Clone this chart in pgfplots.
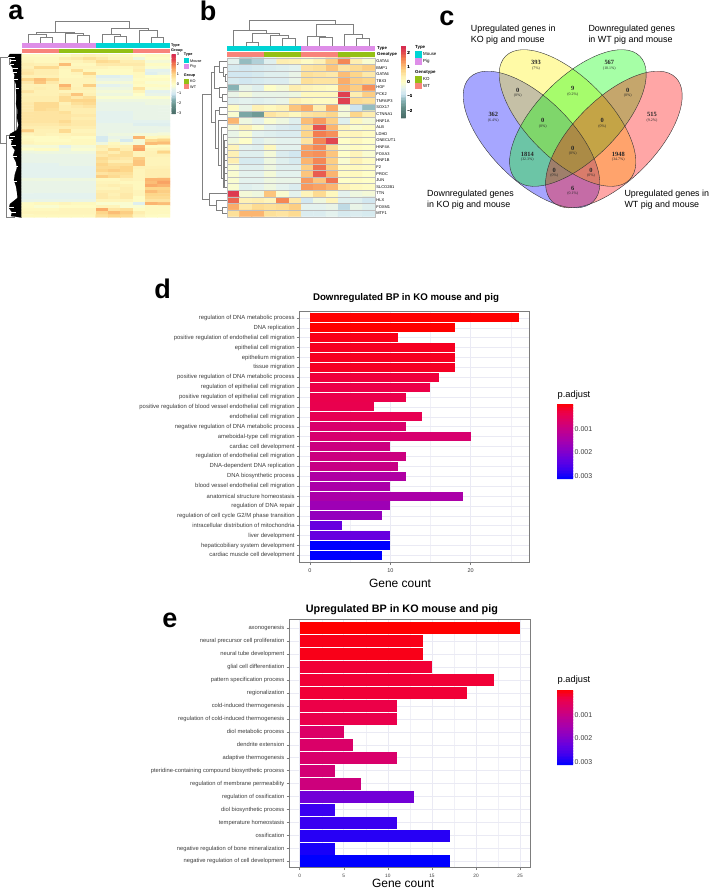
\documentclass[border=0pt]{standalone}
\usepackage{fontspec}
\setmainfont{Liberation Sans}
\newfontfamily\serifvenn{Liberation Serif}
\usepackage{pgfplots}
\pgfplotsset{compat=1.18}
\definecolor{mouse}{RGB}{0,212,212}
\definecolor{pig}{RGB}{222,142,232}
\definecolor{wt}{RGB}{248,132,122}
\definecolor{ko}{RGB}{148,192,20}
\definecolor{gridc}{RGB}{234,234,244}
\definecolor{boxc}{RGB}{125,125,125}
\definecolor{txt}{RGB}{60,60,60}
\pgfplotsset{
  colormap={hm}{rgb255=(70,105,100) rgb255=(85,125,120) rgb255=(105,148,142) rgb255=(135,178,180)
    rgb255=(205,228,240) rgb255=(228,242,238) rgb255=(254,254,200) rgb255=(254,238,176)
    rgb255=(253,214,138) rgb255=(250,172,105) rgb255=(243,125,80) rgb255=(225,70,80) rgb255=(214,40,80)},
  colormap={padj}{rgb255=(255,0,0) rgb255=(235,0,75) rgb255=(215,0,110) rgb255=(190,0,145) rgb255=(165,0,175)
    rgb255=(135,0,200) rgb255=(100,0,225) rgb255=(60,0,240) rgb255=(0,0,255)},
  heat/.style={scale only axis, enlargelimits=false},
  pb/.style={color of colormap={#1 of padj}, fill=., draw=none},
  gobar/.style={scale only axis, xbar, bar shift=0pt, y dir=reverse, axis on top=false,
    axis line style={boxc, line width=.8pt},
    tick style={boxc, line width=.5pt}, major tick length=2.5pt, minor tick length=0pt,
    tick align=outside, xtick pos=bottom, ytick pos=left,
    xmajorgrids, ymajorgrids, xminorgrids,
    major grid style={gridc, line width=.6pt}, minor grid style={gridc!70, line width=.4pt},
    ytick={0,...,30},
    /pgf/number format/assume math mode=true},
  % the colorbar keeps its default xshift of .3cm, so at= below is 8.54pt left of the wanted x
  keybar/.style={anchor=north west, samples=50,
    axis line style={draw=none}, major tick length=0pt,
    /pgf/number format/assume math mode=true},
}
\newcommand{\fs}[1]{\fontsize{#1}{#1}\selectfont}
\newcommand{\vn}[3]{\node[font=\serifvenn\bfseries\fs{6.4}, text=black!85] at (axis cs:#1,#2) {#3};}
\newcommand{\vp}[3]{\node[font=\serifvenn\fs{3.9}, text=black!85] at (axis cs:#1,#2) {#3};}
\newcommand{\lab}[4]{\node[anchor=west, inner sep=0pt, font=#1] at (axis cs:#2,#3) {#4};}
\newcommand{\letter}[3]{\node[anchor=base, inner sep=0pt, font=\bfseries\fs{27}] at (axis cs:#1,#2) {#3};}
\begin{document}
\begin{tikzpicture}
\useasboundingbox (0pt,0pt) rectangle (709pt,-889pt);

% whole page in pixel coordinates: annotation bars, dendrograms, venn, free text
\begin{axis}[at={(0pt,0pt)}, anchor=north west, scale only axis, width=709pt, height=889pt,
  xmin=0, xmax=709, ymin=0, ymax=889, y dir=reverse, hide axis, clip=false]

% panel letters
\letter{16}{19.5}{a}
\letter{208}{20.7}{b}
\letter{447}{25}{c}
\letter{162.7}{298.3}{d}
\letter{170}{627.7}{e}

% panel a annotation bars
\fill[pig] (axis cs:21.7,43.3) rectangle (axis cs:95.7,48.3);
\fill[mouse] (axis cs:95.7,43.3) rectangle (axis cs:170,48.3);
\fill[wt] (axis cs:21.7,49) rectangle (axis cs:58.5,52.7);
\fill[ko] (axis cs:58.5,49) rectangle (axis cs:133,52.7);
\fill[wt] (axis cs:133,49) rectangle (axis cs:170,52.7);
\lab{\bfseries\fs{3.8}}{171}{45.6}{Type}
\lab{\bfseries\fs{3.8}}{171}{50.6}{Group}
\lab{\bfseries\fs{3.8}}{183.7}{55}{Type}
\fill[mouse] (axis cs:183.7,58.3) rectangle (axis cs:189,63.3);
\fill[pig] (axis cs:183.7,64) rectangle (axis cs:189,69);
\lab{\fs{3.8}}{190}{61}{Mouse}
\lab{\fs{3.8}}{190}{66.7}{Pig}
\lab{\bfseries\fs{3.8}}{183.7}{75.7}{Group}
\fill[ko] (axis cs:183.7,78.7) rectangle (axis cs:189,84);
\fill[wt] (axis cs:183.7,84.3) rectangle (axis cs:189,89.3);
\lab{\fs{3.8}}{190}{81.4}{KO}
\lab{\fs{3.8}}{190}{86.8}{WT}

% panel a column dendrogram
\addplot[gray, line width=.5pt, unbounded coords=jump] coordinates {
(36.7,33) (36.7,32.7) (74,32.7) (74,33) (nan,nan)
(55.3,32.7) (55.3,21.7) (129.3,21.7) (129.3,28.3) (nan,nan)
(111,28.3) (148.3,28.3) (nan,nan)
(36.7,32.7) (36.7,34.3) (nan,nan)
(27.8,43.3) (27.8,34.3) (46.3,34.3) (nan,nan)
(40.2,43.3) (40.2,37.3) (52.6,37.3) (52.6,43.3) (nan,nan)
(46.3,34.3) (46.3,37.3) (nan,nan)
(64.9,43.3) (64.9,33.3) (83.3,33.3) (nan,nan)
(77.3,43.3) (77.3,35) (89.7,35) (89.7,43.3) (nan,nan)
(83.3,33.3) (83.3,35) (nan,nan)
(74,32.7) (74,33.3) (nan,nan)
(111,28.3) (111,34.3) (nan,nan)
(102,43.3) (102,34.3) (120.7,34.3) (nan,nan)
(114.3,43.3) (114.3,36) (126.7,36) (126.7,43.3) (nan,nan)
(120.7,34.3) (120.7,36) (nan,nan)
(148.3,28.3) (148.3,30.7) (nan,nan)
(139,43.3) (139,30.7) (157.7,30.7) (nan,nan)
(151.3,43.3) (151.3,37.3) (163.7,37.3) (163.7,43.3) (nan,nan)
(157.7,30.7) (157.7,37.3)
};
% panel a row dendrogram: outer branches and the dense black mass
\addplot[gray, line width=.5pt, unbounded coords=jump] coordinates {
(10,57) (.7,57) (.7,143) (6,143) (nan,nan)
(14,135) (6,135) (6,217) (15,217) (nan,nan)
(14,60) (14,133) (nan,nan)
(9,57) (9,64) (14,64) (nan,nan)
(16,70) (16,130)
};
\addplot[black, fill=black, line width=.2pt] coordinates {
(21.7,54) (10,54) (8,57) (12,60) (10,64) (13,68) (13,72) (15,75) (14,79) (16,84) (16,90) (16.5,97)
(16,104) (17.5,110) (17,118) (18.5,125) (17,130) (10,134) (9,138) (12,141) (11,145) (15,150) (13,156)
(16,162) (17,168) (15,174) (14,180) (16,186) (17,192) (17.5,198) (10,204) (9,208) (12,212) (11,216)
(21.7,217.5) (21.7,54)
} --cycle;
% gaps in the mass
\addplot[white, line width=.5pt, unbounded coords=jump] coordinates {
(8,57) (15,57) (nan,nan) (10,60.5) (16,60.5) (nan,nan) (10,64) (14,64) (nan,nan) (13,68) (18,68) (nan,nan)
(13,72) (17,72) (nan,nan) (14,79) (18,79) (nan,nan) (16,88) (19,88) (nan,nan) (10,136) (15,136) (nan,nan)
(9,139) (13,139) (nan,nan) (11,145) (16,145) (nan,nan) (13,156) (17,156) (nan,nan) (14,166) (18,166) (nan,nan)
(14,181) (17,181) (nan,nan) (9,207) (14,207) (nan,nan) (11,212) (16,212)
};

% panel b annotation bars
\fill[mouse] (axis cs:227.3,46) rectangle (axis cs:301,51);
\fill[pig] (axis cs:301,46) rectangle (axis cs:375,51);
\fill[wt] (axis cs:227.3,51.7) rectangle (axis cs:264,56.7);
\fill[ko] (axis cs:264,51.7) rectangle (axis cs:301,56.7);
\fill[wt] (axis cs:301,51.7) rectangle (axis cs:338,56.7);
\fill[ko] (axis cs:338,51.7) rectangle (axis cs:375,56.7);
\lab{\bfseries\fs{4.3}}{377}{48.5}{Type}
\lab{\bfseries\fs{4.3}}{377}{54.2}{Genotype}
\lab{\bfseries\fs{4.4}}{415}{47.5}{Type}
\fill[mouse] (axis cs:415,51) rectangle (axis cs:421.7,57.7);
\fill[pig] (axis cs:415,58) rectangle (axis cs:421.7,64.7);
\lab{\fs{4.4}}{423}{54.3}{Mouse}
\lab{\fs{4.4}}{423}{61.3}{Pig}
\lab{\bfseries\fs{4.4}}{415}{72}{Genotype}
\fill[ko] (axis cs:415,76) rectangle (axis cs:421.7,82.7);
\fill[wt] (axis cs:415,83) rectangle (axis cs:421.7,89.3);
\lab{\fs{4.4}}{423}{79.3}{KO}
\lab{\fs{4.4}}{423}{86.2}{WT}

% panel b column dendrogram
\addplot[gray, line width=.55pt, unbounded coords=jump] coordinates {
(249.3,30.7) (249.3,20.7) (335,20.7) (335,24) (nan,nan)
(233.5,46) (233.5,30.7) (266,30.7) (266,33.3) (nan,nan)
(252,33.3) (279,33.3) (nan,nan)
(252,33.3) (252,42) (nan,nan)
(245.8,46) (245.8,42) (258.1,42) (258.1,46) (nan,nan)
(279,33.3) (279,35.3) (nan,nan)
(270.4,46) (270.4,35.3) (288.6,35.3) (nan,nan)
(282.7,46) (282.7,38.3) (295,38.3) (295,46) (nan,nan)
(288.6,35.3) (288.6,38.3) (nan,nan)
(316.7,36) (316.7,24) (353.3,24) (353.3,34.3) (nan,nan)
(307.3,46) (307.3,36) (325.7,36) (nan,nan)
(319.6,46) (319.6,37.3) (331.9,37.3) (331.9,46) (nan,nan)
(325.7,36) (325.7,37.3) (nan,nan)
(344.2,46) (344.2,34.3) (362.5,34.3) (nan,nan)
(356.5,46) (356.5,38.3) (368.8,38.3) (368.8,46) (nan,nan)
(362.5,34.3) (362.5,38.3)
};
% panel b row dendrogram
\addplot[gray, line width=.55pt, unbounded coords=jump] coordinates {
(211,94) (202,94) (202,199) (209,199) (nan,nan)
(227,193.6) (209,193.6) (209,205) (216,205) (nan,nan)
(227,200.3) (216,200.3) (216,210) (222,210) (nan,nan)
(227,206.9) (222,206.9) (222,213.5) (227,213.5) (nan,nan)
(214,72) (211,72) (211,122) (215,122) (nan,nan)
(219,66) (214,66) (214,88) (219,88) (nan,nan)
(227,61) (219,61) (219,72) (223,72) (nan,nan)
(227,67.6) (223,67.6) (223,76) (225,76) (nan,nan)
(227,74.3) (225,74.3) (225,80.9) (227,80.9) (nan,nan)
(227,87.5) (219,87.5) (219,97.5) (222,97.5) (nan,nan)
(227,94.2) (222,94.2) (222,100.8) (227,100.8) (nan,nan)
(219,110) (215,110) (215,148) (218,148) (nan,nan)
(227,107.4) (219,107.4) (219,114) (227,114) (nan,nan)
(227,120.7) (218,120.7) (218,165) (221,165) (nan,nan)
(227,127.3) (221,127.3) (221,178) (223,178) (nan,nan)
(227,133.9) (223,133.9) (223,187) (224.5,187) (nan,nan)
(227,140.6) (224.5,140.6) (224.5,187) (nan,nan)
(227,147.2) (224.5,147.2) (nan,nan)
(227,153.8) (224.5,153.8) (nan,nan)
(227,160.5) (224.5,160.5) (nan,nan)
(227,167.1) (224.5,167.1) (nan,nan)
(227,173.7) (224.5,173.7) (nan,nan)
(227,180.4) (224.5,180.4) (nan,nan)
(227,187) (224.5,187)
};

% panel c venn
\fill[blue, fill opacity=.35] (axis cs:531.5,139.5) ellipse[x radius=87.5pt, y radius=41pt, rotate=-45];
\fill[yellow, fill opacity=.35] (axis cs:567.5,118) ellipse[x radius=87.5pt, y radius=41pt, rotate=-45];
\fill[green, fill opacity=.35] (axis cs:577.9,118) ellipse[x radius=87.5pt, y radius=41pt, rotate=45];
\fill[red, fill opacity=.35] (axis cs:613.9,139.5) ellipse[x radius=87.5pt, y radius=41pt, rotate=45];
\draw[black!80, line width=.4pt] (axis cs:531.5,139.5) ellipse[x radius=87.5pt, y radius=41pt, rotate=-45];
\draw[black!80, line width=.4pt] (axis cs:567.5,118) ellipse[x radius=87.5pt, y radius=41pt, rotate=-45];
\draw[black!80, line width=.4pt] (axis cs:577.9,118) ellipse[x radius=87.5pt, y radius=41pt, rotate=45];
\draw[black!80, line width=.4pt] (axis cs:613.9,139.5) ellipse[x radius=87.5pt, y radius=41pt, rotate=45];
\vn{493.3}{114.3}{362} \vp{493.3}{120.3}{(6.4\%)}
\vn{536}{62.7}{393} \vp{536}{68.7}{(7\%)}
\vn{609.3}{62.7}{567} \vp{609.3}{68.7}{(10.1\%)}
\vn{652}{114.7}{515} \vp{652}{120.7}{(9.2\%)}
\vn{517.7}{90.3}{0} \vp{517.7}{96}{(0\%)}
\vn{572.7}{88.3}{9} \vp{572.7}{94.3}{(0.2\%)}
\vn{627.7}{90.3}{0} \vp{627.7}{96}{(0\%)}
\vn{542.7}{120.7}{0} \vp{542.7}{126.7}{(0\%)}
\vn{602.3}{120.7}{0} \vp{602.3}{126.7}{(0\%)}
\vn{527.3}{154}{1814} \vp{527.3}{160}{(32.3\%)}
\vn{572.7}{148}{0} \vp{572.7}{154}{(0\%)}
\vn{618.3}{154}{1948} \vp{618.3}{160}{(34.7\%)}
\vn{554.3}{170}{0} \vp{554.3}{175.7}{(0\%)}
\vn{591}{170}{0} \vp{591}{175.7}{(0\%)}
\vn{572.7}{188.3}{6} \vp{572.7}{194}{(0.1\%)}
\lab{\fs{8.9}}{470.7}{29}{Upregulated genes in}
\lab{\fs{8.9}}{470.7}{39.7}{KO pig and mouse}
\lab{\fs{8.9}}{588.3}{29}{Downregulated genes}
\lab{\fs{8.9}}{588.3}{39.7}{in WT pig and mouse}
\lab{\fs{8.9}}{427}{193.7}{Downregulated genes}
\lab{\fs{8.9}}{427}{204.7}{in KO pig and mouse}
\lab{\fs{8.9}}{624.3}{193.7}{Upregulated genes in}
\lab{\fs{8.9}}{624.3}{204.7}{WT pig and mouse}

% p.adjust legends
\lab{\fs{9.3}}{557.5}{395}{p.adjust}
\lab{\fs{9.3}}{557.5}{680}{p.adjust}
\end{axis}

% panel a heatmap, 12 samples by row bands
\begin{axis}[heat, hide axis, at={(21.7pt,-54pt)}, anchor=north west, width=148.3pt, height=163.5pt,
  xmin=-.5, xmax=11.5, ymin=-.5, ymax=53.5, y dir=reverse, colormap name=hm, point meta min=-3, point meta max=3]
\addplot[matrix plot*, mesh/cols=12, point meta=explicit] table[row sep=crcr, header=false,
  x expr={int(mod(\coordindex+.5,12))}, y expr={int((\coordindex+.5)/12)}, meta index=0] {
.1\\.1\\.1\\.1\\.3\\.4\\.3\\.2\\.2\\.0\\.1\\.1\\
.2\\.2\\.2\\.5\\.6\\.8\\.6\\.3\\.3\\-.3\\.0\\.0\\
.3\\.2\\.2\\.3\\.3\\.5\\.9\\.8\\.5\\.5\\-.2\\-.2\\
.5\\.4\\.4\\1.3\\.2\\.2\\.6\\.6\\.6\\.6\\.1\\.1\\
.4\\.9\\.9\\.3\\.3\\.3\\.3\\.2\\.2\\.4\\-.1\\-.1\\
.6\\.5\\.5\\.2\\.8\\.2\\.1\\.1\\.1\\.5\\-.5\\-.5\\
.7\\.5\\.5\\.2\\.3\\1.0\\.1\\.1\\.1\\.2\\-.6\\-.4\\
.4\\.4\\.4\\.2\\.2\\.4\\-.6\\-.6\\-.5\\.2\\.0\\.0\\
1.0\\1.3\\1.0\\.3\\.3\\.3\\-.4\\-.4\\-.4\\.1\\.1\\.1\\
.6\\1.2\\.6\\.3\\.3\\.3\\-.2\\-.2\\-.2\\.2\\-.1\\-.1\\
.4\\.4\\.4\\1.4\\.3\\1.1\\-.5\\-.5\\-.4\\.1\\.1\\.1\\
.4\\.5\\.4\\1.0\\.4\\.4\\-.3\\-.3\\-.3\\.7\\-.1\\-.1\\
.7\\.4\\.4\\.3\\.3\\.3\\-.2\\-.2\\-.2\\.3\\-.5\\-.5\\
.4\\.4\\.4\\.6\\1.2\\.4\\-.3\\-.3\\-.3\\.0\\-.4\\-.4\\
.5\\.5\\.5\\.9\\.6\\.8\\-.1\\-.1\\-.1\\-.1\\-.1\\-.1\\
.5\\.5\\.5\\.9\\1.0\\1.0\\-.3\\-.3\\-.3\\-.3\\-.3\\-.3\\
.6\\.9\\.9\\.4\\.8\\.9\\-.4\\-.4\\-.4\\-.4\\-.3\\-.3\\
.6\\.9\\.9\\.5\\.6\\.7\\-.4\\-.4\\-.4\\-.4\\-.4\\-.4\\
.6\\.9\\.8\\.5\\.5\\.5\\-.4\\-.4\\-.4\\-.4\\-.4\\-.4\\
.7\\.7\\.7\\.8\\.5\\.5\\-.5\\-.5\\-.5\\-.4\\-.4\\-.4\\
.7\\.7\\.7\\.7\\.6\\.6\\-.5\\-.5\\-.5\\-.4\\-.4\\-.4\\
.7\\.7\\.7\\.7\\.5\\.5\\-.5\\-.5\\-.5\\-.4\\-.4\\-.4\\
.7\\.7\\.7\\.9\\.6\\.6\\-.5\\-.5\\-.5\\-.5\\-.5\\-.5\\
.6\\.6\\.6\\.7\\.6\\.6\\-.4\\-.4\\-.4\\-.6\\-.6\\-.6\\
.5\\.5\\.5\\.5\\.5\\.5\\-.4\\-.4\\-.4\\-.4\\-.4\\-.4\\
1.1\\.4\\.4\\.9\\.3\\.3\\-.4\\-.4\\-.4\\-.4\\-.4\\-.4\\
.3\\.4\\.3\\.3\\.4\\.4\\-.4\\-.3\\-.3\\-.2\\-.2\\-.2\\
.1\\.1\\.1\\.2\\.1\\.1\\-.8\\-.4\\-.4\\1.4\\.2\\.2\\
.2\\.1\\.1\\.1\\.2\\.2\\-.8\\-.3\\-.8\\-.2\\.9\\1.0\\
.3\\.2\\.2\\.2\\.2\\.2\\-.3\\.2\\-.2\\-.2\\1.3\\1.3\\
-.2\\-.2\\-.2\\-.5\\-.2\\-.2\\.5\\.3\\.4\\1.5\\.1\\.1\\
.0\\.1\\.1\\-.3\\-.1\\-.1\\.4\\.9\\.5\\1.6\\.3\\.3\\
-.3\\-.3\\-.3\\-.3\\-.3\\-.3\\.7\\.5\\.8\\.3\\.4\\1.0\\
-.4\\-.4\\-.4\\-.4\\-.4\\-.4\\.6\\.8\\.8\\.3\\.4\\.4\\
-.4\\-.4\\-.4\\-.4\\-.4\\-.4\\.9\\.7\\.6\\1.1\\.3\\.3\\
-.4\\-.4\\-.4\\-.4\\-.4\\-.4\\.8\\.5\\.5\\1.2\\.3\\.3\\
-.5\\-.5\\-.5\\-.4\\-.4\\-.4\\1.0\\.8\\.8\\1.2\\.3\\.3\\
-.5\\-.5\\-.5\\-.5\\-.5\\-.5\\.9\\.9\\1.0\\.4\\.4\\.4\\
-.5\\-.5\\-.5\\-.5\\-.5\\-.5\\1.0\\1.1\\1.0\\.3\\.5\\.5\\
-.5\\-.5\\-.5\\-.5\\-.5\\-.5\\.7\\.8\\.8\\.3\\.5\\.5\\
-.5\\-.5\\-.5\\-.5\\-.5\\-.5\\1.1\\.9\\.7\\.3\\.5\\.5\\
-.3\\-.3\\-.3\\-.3\\-.3\\-.3\\.2\\.2\\.4\\.3\\1.4\\1.4\\
-.4\\-.4\\-.4\\-.4\\-.4\\-.4\\.3\\.3\\.2\\.2\\1.3\\1.6\\
-.4\\-.4\\-.4\\-.4\\-.4\\-.4\\.4\\.5\\.4\\.2\\1.5\\1.4\\
-.4\\-.4\\-.4\\-.4\\-.4\\-.4\\.3\\.3\\.5\\.2\\1.0\\1.0\\
-.4\\-.4\\-.4\\-.4\\-.4\\-.4\\.5\\.5\\.5\\.3\\1.3\\1.1\\
-.5\\-.5\\-.5\\-.5\\-.5\\-.5\\.6\\.4\\.6\\.3\\1.0\\1.0\\
-.5\\-.5\\-.5\\-.5\\-.5\\-.5\\.6\\.5\\.6\\.1\\.9\\.9\\
-.4\\-.4\\-.4\\-.4\\-.4\\-.4\\.3\\.3\\.3\\.1\\.7\\.7\\
.1\\.2\\.2\\.3\\.2\\.2\\-.1\\-.1\\-.1\\-.6\\1.4\\1.3\\
.1\\-.1\\-.1\\.1\\.1\\.1\\.3\\.3\\-.1\\-.1\\.2\\.2\\
.2\\.2\\.2\\.3\\.3\\.3\\1.5\\.7\\.8\\.1\\.2\\.2\\
.3\\.3\\.3\\.3\\.3\\.3\\1.0\\1.3\\1.1\\.5\\.2\\.2\\
.2\\.2\\.2\\.2\\.2\\.2\\.8\\1.0\\.9\\.3\\.1\\.1\\
};
\end{axis}

% panel b heatmap, cell borders are minor grid lines on top
\begin{axis}[heat, at={(227.3pt,-57.7pt)}, anchor=north west, width=147.7pt, height=159pt,
  xmin=-.5, xmax=11.5, ymin=-.5, ymax=23.5, y dir=reverse, colormap name=hm, point meta min=-3, point meta max=3,
  axis on top, axis line style={black!25, line width=.4pt}, xtick=\empty, ytick={0,...,23}, major tick length=0pt, minor tick length=0pt,
  minor xtick={.5,1.5,...,10.5}, minor ytick={.5,1.5,...,22.5}, xminorgrids, yminorgrids,
  minor grid style={black!25, line width=.4pt},
  yticklabel pos=right,
  yticklabels={GATA4,BMP1,GATA6,TBX3,HGF,PCK2,TNFAIP3,SOX17,CTNNA1,HNF1A,ALB,LDHD,ONECUT1,HNF4A,FOXA3,HNF1B,F2,PROC,JUN,SLCO2B1,TTN,HLX,FOXM1,MTF1},
  yticklabel style={font=\fs{4}, inner xsep=1.2pt}]
\addplot[matrix plot*, mesh/cols=12, point meta=explicit] table[row sep=crcr, header=false,
  x expr={int(mod(\coordindex+.5,12))}, y expr={int((\coordindex+.5)/12)}, meta index=0] {
-.5\\-1.4\\-1.2\\-.6\\.5\\.4\\.1\\.4\\1.1\\1.9\\.5\\-.1\\
-.8\\-.9\\-.8\\-.7\\-.6\\-.5\\.7\\.8\\1.2\\.7\\.9\\1.1\\
-.9\\-.9\\-.8\\-.6\\-.6\\-.4\\.8\\.7\\.6\\1.3\\1.0\\.6\\
-.8\\-.9\\-.8\\-.7\\-.7\\-.4\\.8\\.7\\.7\\1.5\\1.1\\1.0\\
-1.5\\-.4\\-.6\\.0\\-.2\\.5\\.3\\.2\\.1\\1.4\\1.1\\1.8\\
-.4\\-.2\\-.4\\-.4\\-.4\\-.3\\.2\\.2\\.2\\2.6\\.5\\1.1\\
-.6\\-.5\\-.6\\-.5\\-.4\\.4\\.2\\.1\\.1\\2.6\\.9\\.8\\
.1\\-.4\\.4\\.2\\.4\\1.2\\1.5\\.5\\1.5\\-.2\\-1.0\\-1.4\\
-.1\\-1.7\\-1.9\\.7\\.5\\.2\\.7\\.8\\1.0\\-.2\\1.0\\.5\\
1.4\\-.3\\-.5\\-.1\\-.3\\-.6\\1.3\\1.7\\1.1\\-.6\\.2\\-.2\\
-.2\\.4\\-.1\\-.5\\-.7\\-.8\\.9\\2.4\\1.4\\.3\\-.1\\.1\\
-.4\\-.1\\-.5\\-.6\\-.7\\-.7\\1.0\\2.0\\1.8\\.2\\.3\\.1\\
-.3\\.0\\-.6\\-.4\\-.5\\-.5\\.7\\1.9\\2.5\\.0\\.2\\.0\\
.3\\-.5\\-.6\\.2\\-.5\\-.5\\1.6\\1.9\\.9\\-.1\\.1\\.0\\
.4\\-.6\\-.6\\-.2\\-.7\\-.9\\1.7\\1.8\\1.2\\.0\\.3\\-.1\\
.5\\-.8\\-.8\\-.3\\-.6\\-.8\\1.4\\1.9\\1.1\\-.1\\.4\\.1\\
-.1\\-.6\\-.6\\-.3\\-.6\\-.6\\1.1\\2.1\\1.1\\.1\\.2\\.1\\
-.1\\-.5\\-.5\\-.2\\-.5\\-.5\\1.2\\2.3\\1.4\\.1\\.2\\.0\\
-.1\\-.5\\-.5\\-.3\\-.4\\-.4\\1.7\\1.2\\2.1\\.0\\.1\\.0\\
-.1\\-.6\\-.5\\-.3\\-.5\\-.7\\1.7\\1.6\\1.4\\.4\\.2\\.1\\
2.7\\-.2\\-.3\\1.2\\-.1\\-.5\\.3\\.9\\.2\\-.5\\-.3\\-.2\\
2.2\\.4\\.5\\.3\\1.9\\.6\\-.9\\-.3\\.3\\-.6\\-.6\\-.9\\
1.5\\.6\\.9\\.8\\.9\\1.1\\-.5\\-.5\\-.4\\-1.1\\-.4\\-.6\\
.8\\1.4\\1.4\\.8\\.7\\.9\\-.7\\-.7\\-.5\\-.8\\-.7\\-.8\\
};
\end{axis}

% heatmap colour keys
\pgfplotscolorbardrawstandalone[colormap name=hm, colorbar sampled, point meta min=-3.13, point meta max=3.07,
  colorbar style={keybar, at={(163.16pt,-54pt)}, width=4pt, height=60pt, ytick={-3,-2,-1,0,1,2,3},
    yticklabels={−3,−2,−1,0,1,2,3}, yticklabel style={font=\fs{3.8}, inner xsep=1pt}}]
\pgfplotscolorbardrawstandalone[colormap name=hm, colorbar sampled, point meta min=-2.5, point meta max=2.5,
  colorbar style={keybar, at={(392.46pt,-45.7pt)}, width=4.7pt, height=72.3pt, ytick={-2,-1,0,1,2},
    yticklabels={−2,−1,0,1,2}, yticklabel style={font=\fs{4.4}, inner xsep=1.5pt}}]

% panel d
\begin{axis}[gobar, at={(299.3pt,-311pt)}, anchor=north west, width=230pt, height=251.3pt,
  xmin=-1.33, xmax=27.3, ymin=-.7, ymax=24.7, bar width=9pt,
  xtick={0,10,20}, minor xtick={5,15,25},
  yticklabels={regulation of DNA metabolic process, DNA replication,
    positive regulation of endothelial cell migration, epithelial cell migration, epithelium migration,
    tissue migration, positive regulation of DNA metabolic process, regulation of epithelial cell migration,
    positive regulation of epithelial cell migration, positive regulation of blood vessel endothelial cell migration,
    endothelial cell migration, negative regulation of DNA metabolic process, ameboidal-type cell migration,
    cardiac cell development, regulation of endothelial cell migration, DNA-dependent DNA replication,
    DNA biosynthetic process, blood vessel endothelial cell migration, anatomical structure homeostasis,
    regulation of DNA repair, regulation of cell cycle G2/M phase transition,
    intracellular distribution of mitochondria, liver development, hepaticobiliary system development,
    cardiac muscle cell development},
  yticklabel style={font=\fs{5.9}, text=txt, inner xsep=2pt},
  xticklabel style={font=\fs{5.5}, text=txt},
  title={Downregulated BP in KO mouse and pig},
  title style={font=\bfseries\fs{9.7}, at={(axis description cs:.464,1)}, yshift=-1pt},
  xlabel={Gene count}, xlabel style={font=\fs{12}, at={(axis description cs:.438,0)}, anchor=center, yshift=-21pt}]
\addplot[pb=0] coordinates {(26,0)};
\addplot[pb=0] coordinates {(18,1)};
\addplot[pb=40] coordinates {(11,2)};
\addplot[pb=55] coordinates {(18,3)};
\addplot[pb=55] coordinates {(18,4)};
\addplot[pb=60] coordinates {(18,5)};
\addplot[pb=100] coordinates {(16,6)};
\addplot[pb=120] coordinates {(15,7)};
\addplot[pb=130] coordinates {(12,8)};
\addplot[pb=135] coordinates {(8,9)};
\addplot[pb=150] coordinates {(14,10)};
\addplot[pb=240] coordinates {(12,11)};
\addplot[pb=250] coordinates {(20,12)};
\addplot[pb=310] coordinates {(10,13)};
\addplot[pb=310] coordinates {(12,14)};
\addplot[pb=330] coordinates {(11,15)};
\addplot[pb=450] coordinates {(12,16)};
\addplot[pb=470] coordinates {(10,17)};
\addplot[pb=470] coordinates {(19,18)};
\addplot[pb=530] coordinates {(10,19)};
\addplot[pb=570] coordinates {(9,20)};
\addplot[pb=740] coordinates {(4,21)};
\addplot[pb=740] coordinates {(10,22)};
\addplot[pb=1000] coordinates {(10,23)};
\addplot[pb=1000] coordinates {(9,24)};
\end{axis}

% panel e
\begin{axis}[gobar, at={(289pt,-619.3pt)}, anchor=north west, width=241.7pt, height=248.4pt,
  xmin=-1.21, xmax=26.2, ymin=-.68, ymax=18.48, bar width=12pt,
  xtick={0,5,...,25}, minor xtick={2.5,7.5,...,22.5},
  yticklabels={axonogenesis, neural precursor cell proliferation, neural tube development,
    glial cell differentiation, pattern specification process, regionalization, cold-induced thermogenesis,
    regulation of cold-induced thermogenesis, diol metabolic process, dendrite extension, adaptive thermogenesis,
    pteridine-containing compound biosynthetic process, regulation of membrane permeability,
    regulation of ossification, diol biosynthetic process, temperature homeostasis, ossification,
    negative regulation of bone mineralization, negative regulation of cell development},
  yticklabel style={font=\fs{5.8}, text=txt, inner xsep=2pt},
  xticklabel style={font=\fs{4.8}, text=txt},
  title={Upregulated BP in KO mouse and pig},
  title style={font=\bfseries\fs{10.8}, at={(axis description cs:.467,1)}, yshift=-5pt},
  xlabel={Gene count}, xlabel style={font=\fs{12}, at={(axis description cs:.472,0)}, anchor=center, yshift=-16pt}]
\addplot[pb=0] coordinates {(25,0)};
\addplot[pb=40] coordinates {(14,1)};
\addplot[pb=40] coordinates {(14,2)};
\addplot[pb=90] coordinates {(15,3)};
\addplot[pb=90] coordinates {(22,4)};
\addplot[pb=90] coordinates {(19,5)};
\addplot[pb=120] coordinates {(11,6)};
\addplot[pb=130] coordinates {(11,7)};
\addplot[pb=220] coordinates {(5,8)};
\addplot[pb=230] coordinates {(6,9)};
\addplot[pb=240] coordinates {(11,10)};
\addplot[pb=270] coordinates {(4,11)};
\addplot[pb=300] coordinates {(7,12)};
\addplot[pb=700] coordinates {(13,13)};
\addplot[pb=880] coordinates {(4,14)};
\addplot[pb=880] coordinates {(11,15)};
\addplot[pb=920] coordinates {(17,16)};
\addplot[pb=950] coordinates {(4,17)};
\addplot[pb=1000] coordinates {(17,18)};
\end{axis}

% p.adjust colour keys
\pgfplotscolorbardrawstandalone[colormap name=padj, colorbar sampled, point meta min=-.00006, point meta max=.00313,
  colorbar style={keybar, at={(548.46pt,-404pt)}, width=16pt, height=75pt, y dir=reverse, ytick={.001,.002,.003},
    yticklabels={0.001,0.002,0.003}, yticklabel style={font=\fs{7}, text=txt}, scaled y ticks=false}]
\pgfplotscolorbardrawstandalone[colormap name=padj, colorbar sampled, point meta min=-.00006, point meta max=.00313,
  colorbar style={keybar, at={(548.46pt,-690pt)}, width=16pt, height=75pt, y dir=reverse, ytick={.001,.002,.003},
    yticklabels={0.001,0.002,0.003}, yticklabel style={font=\fs{7}, text=txt}, scaled y ticks=false}]
\end{tikzpicture}
\end{document}
